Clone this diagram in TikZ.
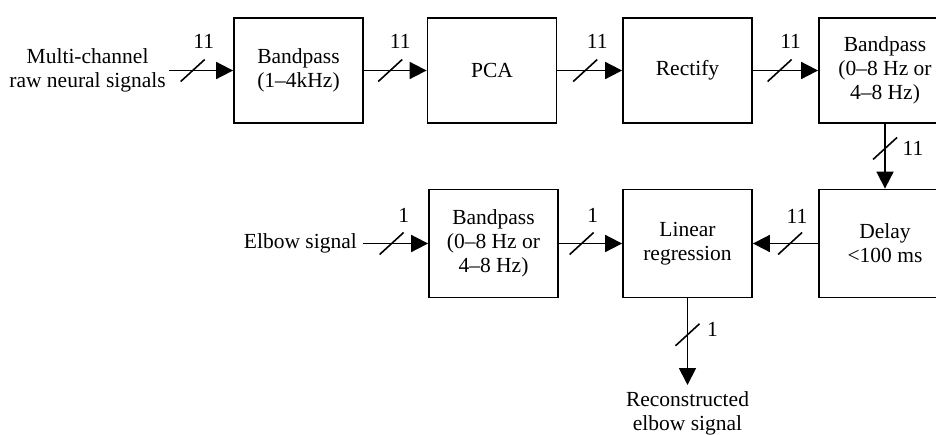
\documentclass[tikz,border=0pt]{standalone}
\usepackage{fontspec}
\setmainfont{Liberation Serif}
\usetikzlibrary{arrows.meta,calc}

% bus-width mark: a short slash across a connector with its channel count
\newcommand{\busmark}[3]{%
  \draw[tick] ($(#1)+(-12,11)$) -- ($(#1)+(12,-11)$);
  \node[lbl] at ($(#1)+#2$) {#3};}

\begin{document}
\begin{tikzpicture}[x=1pt,y=-1pt,
  every node/.style={font=\fontsize{21.5}{24}\selectfont},
  block/.style={draw, line width=1.8pt, align=center, inner sep=0pt,
                minimum width=129pt, minimum height=105pt},
  conn/.style={line width=1.8pt, -{Triangle[length=17pt,width=17pt]}},
  tick/.style={line width=1.6pt},
  lbl/.style={inner sep=0pt},
  ]
\useasboundingbox (0,0) rectangle (936,434);
\clip (0,0) rectangle (936,434);

% processing blocks, top row
\node[block] (bp1) at (298.5,70.5) {Bandpass\\(1–4kHz)};
\node[block] (pca) at (492,70.5) {PCA};
\node[block] (rect) at (687.5,70.5) {Rectify};
\node[block, minimum width=132pt] (bp2) at (885,70.5) {Bandpass\\(0–8 Hz or\\4–8 Hz)};

% processing blocks, bottom row
\node[block, minimum width=132pt, minimum height=108pt] (dly) at (885,243.5) {Delay\\<100 ms};
\node[block, minimum height=108pt] (lr) at (687.5,243.5) {Linear\\regression};
\node[block, minimum height=108pt] (bp3) at (493.5,243.5) {Bandpass\\(0–8 Hz or\\4–8 Hz)};

% inputs and output
\node[anchor=east, align=center, inner xsep=3pt] (src) at (169,70.5) {Multi-channel\\raw neural signals};
\node[anchor=east, inner xsep=6pt] (elb) at (363,243.5) {Elbow signal};
\node[anchor=north, align=center, inner ysep=6pt, inner xsep=0pt] (out) at (687.5,385) {Reconstructed\\elbow signal};

% connectors
\draw[conn] (src.east) -- (bp1.west) coordinate[pos=0.37] (m1);
\draw[conn] (bp1.east) -- (pca.west) coordinate[pos=0.42] (m2);
\draw[conn] (pca.east) -- (rect.west) coordinate[pos=0.43] (m3);
\draw[conn] (rect.east) -- (bp2.west) coordinate[pos=0.41] (m4);
\draw[conn] (bp2.south) -- (dly.north) coordinate[pos=0.38] (m5);
\draw[conn] (dly.west) -- (lr.east) coordinate[pos=0.43] (m6);
\draw[conn] (elb.east) -- (bp3.west) coordinate[pos=0.44] (m7);
\draw[conn] (bp3.east) -- (lr.west) coordinate[pos=0.36] (m8);
\draw[conn] (lr.south) -- (out.north) coordinate[pos=0.42] (m9);

% channel counts
\busmark{m1}{(11,-29)}{11}
\busmark{m2}{(10,-29)}{11}
\busmark{m3}{(12,-29)}{11}
\busmark{m4}{(11,-29)}{11}
\busmark{m5}{(28,0)}{11}
\busmark{m6}{(7,-27)}{11}
\busmark{m7}{(12,-28)}{1}
\busmark{m8}{(11,-28)}{1}
\busmark{m9}{(25,-5)}{1}
\end{tikzpicture}
\end{document}
